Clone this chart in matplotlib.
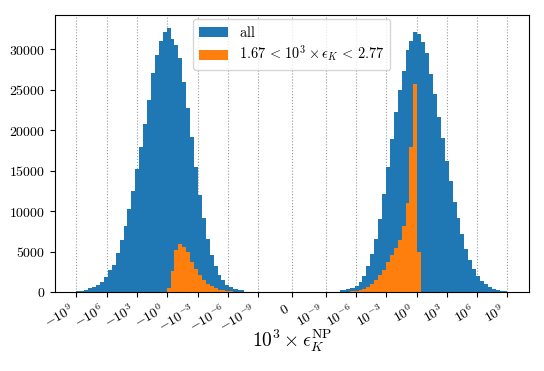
import numpy as np
import matplotlib
matplotlib.use("Agg")
import matplotlib.pyplot as plt
from matplotlib.scale import SymmetricalLogTransform
from matplotlib.ticker import FuncFormatter

plt.rcParams["mathtext.fontset"] = "cm"
plt.rcParams["font.family"] = "DejaVu Serif"

# symlog settings and binning (110 bins evenly spaced in symlog space)
linthresh = 1e-9
linscale = 3
n_bins = 110

# counts per bin
all_counts = [
    87, 169, 293, 458, 623, 912, 1283, 1860, 2686, 3387,
    4872, 6398, 8090, 10235, 12422, 15144, 17949, 20714, 23766, 27025,
    29253, 31026, 32057, 32595, 31274, 30531, 28882, 25994, 22694, 19187,
    15474, 11968, 9080, 6522, 4542, 3222, 2150, 1448, 912, 623,
    375, 251, 169, 87, 40, 15, 5, 0, 0, 0,
    0, 0, 0, 0, 0, 0, 0, 0, 0, 0,
    0, 0, 5, 15, 40, 70, 124, 210, 293, 413,
    500, 800, 1280, 2000, 3220, 4750, 6500, 8980, 12070, 15470,
    18900, 22200, 25000, 27300, 29900, 31065, 32180, 31893, 30940, 29580,
    26943, 24467, 21658, 18980, 16175, 13737, 11138, 9158, 7141, 5371,
    4010, 2896, 1943, 1411, 990, 668, 421, 248, 124, 60,
]
cut_counts = [
    0, 0, 0, 0, 0, 0, 0, 0, 0, 0,
    0, 0, 0, 0, 0, 0, 0, 0, 0, 0,
    0, 0, 0, 540, 2600, 5160, 5900, 5570, 4950, 3713,
    2890, 2065, 1450, 1040, 705, 458, 300, 200, 120, 70,
    35, 15, 0, 0, 0, 0, 0, 0, 0, 0,
    0, 0, 0, 0, 0, 0, 0, 0, 0, 0,
    0, 0, 0, 0, 0, 0, 0, 0, 0, 30,
    60, 125, 210, 330, 620, 950, 1450, 2065, 2770, 3715,
    4630, 5490, 6480, 8170, 10940, 17945, 25705, 4950, 0, 0,
    0, 0, 0, 0, 0, 0, 0, 0, 0, 0,
    0, 0, 0, 0, 0, 0, 0, 0, 0, 0,
]
tick_exps = [9, 6, 3, 0, -3, -6, -9]
cut_label = r"$1.67 \,<\, 10^3 \times \epsilon_K \,<\, 2.77$"

tr = SymmetricalLogTransform(10, linthresh, linscale)
umax = tr.transform(np.array([1e9]))[0]
edges = tr.inverted().transform(np.linspace(-umax, umax, n_bins + 1))

fig = plt.figure(figsize=(5.44, 3.71), dpi=100)
ax = fig.add_axes([0.101, 0.213, 0.8714, 0.7467])
ax.set_xscale("symlog", linthresh=linthresh, linscale=linscale)

ax.hist(edges[:-1], bins=edges, weights=all_counts, color="#1f77b4", label="$\\mathrm{all}$")
ax.hist(edges[:-1], bins=edges, weights=cut_counts, color="#ff7f0e", label=cut_label)

ticks = [-10.0**e for e in tick_exps] + [0] + [10.0**e for e in tick_exps[::-1]]
labels = ["$-10^{%d}$" % e for e in tick_exps] + ["$0$"] + ["$10^{%d}$" % e for e in tick_exps[::-1]]
ax.set_xticks(ticks)
ax.set_xticklabels(labels, rotation=30, ha="right", fontsize=10)
ax.xaxis.set_minor_locator(matplotlib.ticker.NullLocator())
ax.yaxis.set_major_formatter(FuncFormatter(lambda v, p: "$%d$" % v))
ax.tick_params(labelsize=10)

ax.set_axisbelow(True)
ax.grid(axis="x", linestyle=":", color="#999999", linewidth=0.8)
ax.set_xlabel(r"$10^3 \times \epsilon_K^{\mathrm{NP}}$", fontsize=14, labelpad=-5)

ax.legend(loc="upper center", fontsize=10.3, borderaxespad=0.3, labelspacing=0.3)

fig.savefig("out.png", dpi=100)
